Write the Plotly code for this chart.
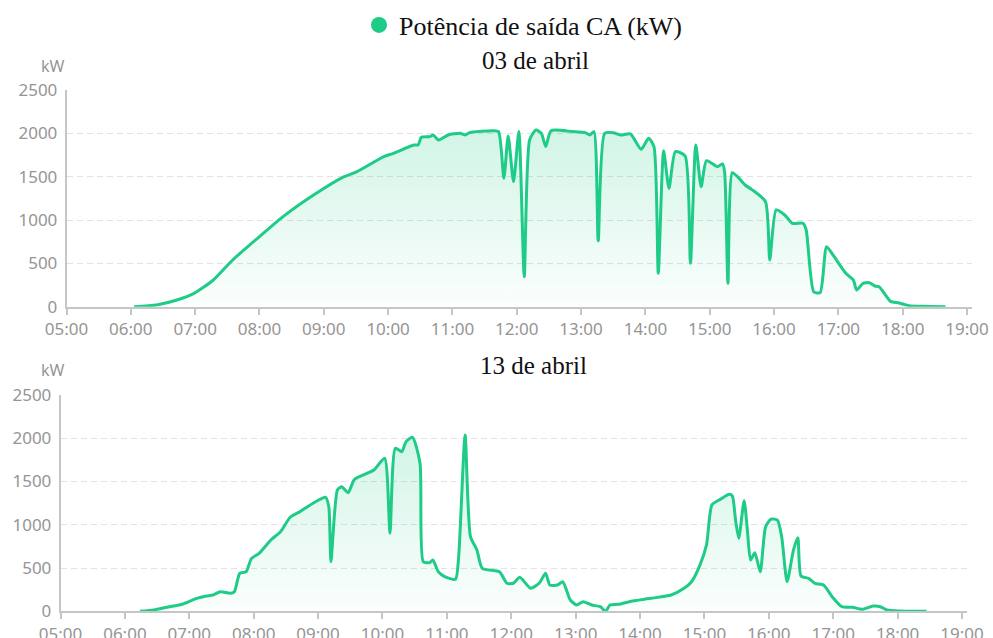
import plotly.graph_objects as go

# ---------------- data ----------------
SERIES_NAME = "Potência de saída CA (kW)"
TITLE_1 = "03 de abril"
TITLE_2 = "13 de abril"
DATE_1 = "2024-04-03"
DATE_2 = "2024-04-13"
UNIT = "kW"

X_TICK_LABELS = ["05:00", "06:00", "07:00", "08:00", "09:00", "10:00", "11:00", "12:00",
                 "13:00", "14:00", "15:00", "16:00", "17:00", "18:00", "19:00"]
Y_TICKS = [0, 500, 1000, 1500, 2000, 2500]

day1_times = ["06:03", "06:24", "06:43", "06:59", "07:17", "07:35", "08:00", "08:22", "08:53", "09:19",
              "09:31", "09:56", "10:05", "10:24", "10:28", "10:31", "10:39", "10:42", "10:47", "10:56",
              "11:07", "11:12", "11:16", "11:38", "11:43", "11:48", "11:52", "11:57", "12:02", "12:07",
              "12:12", "12:18", "12:23", "12:27", "12:32", "12:52", "13:04", "13:08", "13:12", "13:16",
              "13:22", "13:30", "13:37", "13:46", "13:56", "14:03", "14:08", "14:12", "14:17", "14:22",
              "14:28", "14:37", "14:42", "14:47", "14:52", "14:57", "15:07", "15:12", "15:14", "15:17",
              "15:21", "15:26", "15:33", "15:39", "15:52", "15:56", "16:02", "16:10", "16:17", "16:27",
              "16:30", "16:37", "16:43", "16:49", "16:55", "17:07", "17:14", "17:17", "17:23", "17:29",
              "17:34", "17:38", "17:49", "17:56", "18:06", "18:19", "18:40"]
day1_kw = [0, 20, 77, 154, 308, 539, 808, 1039, 1308, 1500,
           1558, 1731, 1770, 1866, 1866, 1955, 1962, 1981, 1924, 1981,
           2000, 1981, 2008, 2031, 2020, 1482, 1970, 1443, 2020, 346,
           1924, 2039, 2000, 1847, 2031, 2020, 2008, 1981, 2020, 762,
           2000, 2008, 1981, 1993, 1816, 1943, 1847, 385, 1800, 1366,
           1789, 1739, 500, 1866, 1385, 1685, 1616, 1647, 1539, 270,
           1547, 1500, 1404, 1354, 1212, 539, 1116, 1058, 962, 962,
           885, 173, 162, 692, 597, 385, 308, 193, 270, 277,
           239, 231, 58, 46, 12, 4, 0]

day2_times = ["06:14", "06:27", "06:39", "06:54", "07:07", "07:16", "07:22", "07:29", "07:38", "07:42",
              "07:47", "07:53", "07:58", "08:05", "08:16", "08:25", "08:34", "08:43", "08:56", "09:07",
              "09:10", "09:12", "09:18", "09:22", "09:28", "09:34", "09:52", "10:02", "10:07", "10:12",
              "10:18", "10:22", "10:28", "10:35", "10:38", "10:44", "10:47", "10:52", "10:58", "11:08",
              "11:11", "11:17", "11:22", "11:28", "11:33", "11:49", "11:56", "12:02", "12:08", "12:18",
              "12:26", "12:32", "12:36", "12:43", "12:48", "12:55", "13:01", "13:07", "13:15", "13:23",
              "13:28", "13:32", "13:40", "13:50", "14:10", "14:29", "14:41", "14:48", "14:56", "15:02",
              "15:07", "15:15", "15:23", "15:26", "15:29", "15:32", "15:37", "15:40", "15:43", "15:47",
              "15:52", "15:57", "16:02", "16:08", "16:12", "16:17", "16:23", "16:27", "16:30", "16:37",
              "16:43", "16:51", "16:59", "17:08", "17:18", "17:27", "17:37", "17:44", "17:50", "18:02",
              "18:27"]
day2_kw = [0, 15, 46, 84, 150, 177, 188, 227, 208, 227,
           439, 458, 612, 670, 824, 920, 1087, 1151, 1255, 1318,
           1209, 573, 1402, 1440, 1371, 1526, 1633, 1769, 902, 1884,
           1845, 1961, 2011, 1711, 573, 562, 593, 458, 400, 370,
           631, 2038, 862, 709, 497, 458, 324, 324, 393, 266,
           324, 439, 304, 304, 342, 131, 73, 111, 73, 53,
           0, 73, 81, 111, 150, 188, 266, 342, 540, 770,
           1230, 1295, 1352, 1333, 1055, 844, 1279, 940, 593, 677,
           458, 978, 1064, 1055, 862, 342, 709, 851, 408, 381,
           324, 304, 169, 53, 46, 23, 61, 53, 15, 4,
           0]

# ---------------- style ----------------
W, H = 993, 638
LINE = "#1ecb87"
AXIS = "#c6c6c6"
GRID = "#e2e2e2"
TICK_FONT = dict(family="Noto Sans, Open Sans, sans-serif", size=17, color="#959595")
SERIF = "Liberation Serif, Times New Roman, serif"
FILL = dict(type="vertical",
            colorscale=[[0, "rgba(30,203,135,0.02)"], [1, "rgba(30,203,135,0.20)"]])


def px_x(p):
    return p / W


def px_y(p):
    return 1 - p / H


fig = go.Figure()

for date, times, vals, xa, ya in [(DATE_1, day1_times, day1_kw, "x", "y"),
                                  (DATE_2, day2_times, day2_kw, "x2", "y2")]:
    fig.add_trace(go.Scatter(
        x=[f"{date} {t}" for t in times], y=vals, mode="lines",
        line=dict(color=LINE, width=3, shape="spline", smoothing=0.6),
        fill="tozeroy", fillgradient=FILL,
        xaxis=xa, yaxis=ya, showlegend=False, name=SERIES_NAME))

# legend entry
fig.add_trace(go.Scatter(x=[None], y=[None], mode="markers",
                         marker=dict(size=16, color=LINE), name=SERIES_NAME,
                         showlegend=True))


def xaxis(date, dom, anchor):
    return dict(
        domain=dom, anchor=anchor, type="date",
        range=[f"{date} 05:00", f"{date} 19:04:40"],
        tickvals=[f"{date} {t}" for t in X_TICK_LABELS], ticktext=X_TICK_LABELS,
        showline=True, linecolor=AXIS, linewidth=2,
        ticks="outside", ticklen=6, tickwidth=1.5, tickcolor=AXIS,
        showgrid=False, zeroline=False, tickfont=TICK_FONT, automargin=False,
    )


def yaxis(dom, anchor):
    return dict(
        domain=dom, anchor=anchor, range=[0, 2500], tickvals=Y_TICKS,
        showline=True, linecolor=AXIS, linewidth=1.5, ticks="",
        showgrid=True, gridcolor=GRID, gridwidth=1.3, griddash="6px,4px",
        zeroline=False, tickfont=TICK_FONT, automargin=False, ticklabelstandoff=4,
    )


fig.update_layout(
    width=W, height=H, autosize=False, template="none",
    paper_bgcolor="white", plot_bgcolor="white",
    margin=dict(l=0, r=0, t=0, b=0),
    xaxis=xaxis(DATE_1, [px_x(66.5), px_x(972)], "y"),
    yaxis=yaxis([px_y(306.7), px_y(90)], "x"),
    xaxis2=xaxis(DATE_2, [px_x(60.5), px_x(967)], "y2"),
    yaxis2=yaxis([px_y(611.3), px_y(395)], "x2"),
    showlegend=True,
    legend=dict(orientation="h", x=px_x(359), y=px_y(25), xanchor="left", yanchor="middle",
                font=dict(family=SERIF, size=26, color="#111"), bgcolor="rgba(0,0,0,0)",
                borderwidth=0),
    hovermode=False,
)

annos = [
    dict(text=TITLE_1, x=px_x(535.5), y=px_y(60)),
    dict(text=TITLE_2, x=px_x(533), y=px_y(365)),
]
for a in annos:
    fig.add_annotation(xref="paper", yref="paper", showarrow=False, xanchor="center",
                       yanchor="middle", font=dict(family=SERIF, size=25, color="#111"), **a)
for yy in (66, 370):
    fig.add_annotation(xref="paper", yref="paper", showarrow=False, xanchor="center",
                       yanchor="middle", x=px_x(53), y=px_y(yy), text=UNIT,
                       font=dict(family="Noto Sans, Open Sans, sans-serif", size=16, color="#959595"))

# remove the default 8px body margin so the 993x638 figure fills the window exactly
fig.write_html("out.html", config={"displayModeBar": False},
               post_script="document.body.style.margin='0px';")
